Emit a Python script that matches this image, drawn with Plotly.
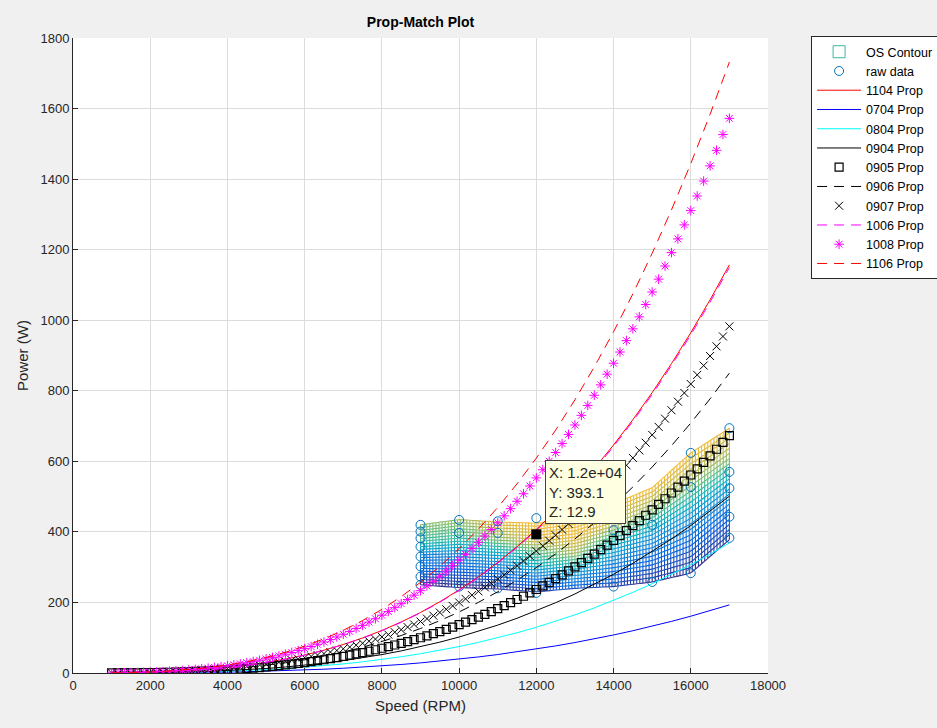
import numpy as np
import plotly.graph_objects as go

# ---------------- data ----------------
rpm_line = [1000, 1500, 2000, 2500, 3000, 3500, 4000, 4500, 5000, 5500, 6000, 6500,
            7000, 7500, 8000, 8500, 9000, 9500, 10000, 10500, 11000, 11500, 12000,
            12500, 13000, 13500, 14000, 14500, 15000, 15500, 16000, 16500, 17000]

p1104 = [0.24, 0.79, 1.88, 3.68, 6.36, 10.1, 15.07, 21.46, 29.44, 39.18, 50.87, 64.67,
         80.78, 99.35, 120.58, 144.63, 171.68, 201.91, 235.5, 272.62, 313.45, 358.17,
         406.94, 459.96, 517.39, 579.42, 646.21, 717.95, 794.81, 876.97, 964.61, 1057.9, 1157.0]
p0704 = [0.04, 0.13, 0.31, 0.61, 1.06, 1.69, 2.52, 3.58, 4.91, 6.54, 8.49, 10.79,
         13.48, 16.58, 20.12, 24.14, 28.65, 33.69, 39.3, 45.49, 52.31, 59.77,
         67.91, 76.76, 86.34, 96.69, 107.84, 119.81, 132.64, 146.35, 160.97, 176.54, 193.08]
p0804 = [0.08, 0.25, 0.6, 1.17, 2.03, 3.22, 4.8, 6.83, 9.38, 12.48, 16.2, 20.6,
         25.73, 31.64, 38.4, 46.06, 54.68, 64.3, 75.0, 86.82, 99.83, 114.07,
         129.6, 146.48, 164.78, 184.53, 205.8, 228.65, 253.13, 279.29, 307.2, 336.91, 368.48]
p0904 = [0.1, 0.34, 0.82, 1.59, 2.75, 4.37, 6.53, 9.29, 12.75, 16.97, 22.03, 28.01,
         34.99, 43.03, 52.22, 62.64, 74.36, 87.45, 102.0, 118.08, 135.76, 155.13,
         176.26, 199.22, 224.09, 250.96, 279.89, 310.96, 344.25, 379.84, 417.79, 458.2, 501.13]
p0906 = [0.17, 0.58, 1.38, 2.7, 4.67, 7.42, 11.07, 15.76, 21.63, 28.78, 37.37, 47.51,
         59.34, 72.98, 88.58, 106.24, 126.12, 148.33, 173.0, 200.27, 230.26, 263.11,
         298.94, 337.89, 380.08, 425.64, 474.71, 527.41, 583.88, 644.23, 708.61, 777.14, 849.95]
p1006 = [0.23, 0.79, 1.87, 3.66, 6.32, 10.03, 14.98, 21.32, 29.25, 38.93, 50.54, 64.26,
         80.26, 98.72, 119.81, 143.71, 170.59, 200.63, 234.0, 270.88, 311.45, 355.88,
         404.35, 457.03, 514.1, 575.73, 642.1, 713.38, 789.75, 871.39, 958.46, 1051.16, 1149.64]
p1106 = [0.35, 1.19, 2.82, 5.51, 9.52, 15.11, 22.56, 32.12, 44.06, 58.65, 76.14, 96.81,
         120.91, 148.71, 180.48, 216.48, 256.97, 302.22, 352.5, 408.06, 469.18, 536.11,
         609.12, 688.48, 774.44, 867.28, 967.26, 1074.64, 1189.69, 1312.67, 1443.84, 1583.47, 1731.83]

rpm_mark = [1000, 1167, 1333, 1500, 1667, 1833, 2000, 2167, 2333, 2500,
            2667, 2833, 3000, 3167, 3333, 3500, 3667, 3833, 4000, 4167,
            4333, 4500, 4667, 4833, 5000, 5167, 5333, 5500, 5667, 5833,
            6000, 6167, 6333, 6500, 6667, 6833, 7000, 7167, 7333, 7500,
            7667, 7833, 8000, 8167, 8333, 8500, 8667, 8833, 9000, 9167,
            9333, 9500, 9667, 9833, 10000, 10167, 10333, 10500, 10667, 10833,
            11000, 11167, 11333, 11500, 11667, 11833, 12000, 12167, 12333, 12500,
            12667, 12833, 13000, 13167, 13333, 13500, 13667, 13833, 14000, 14167,
            14333, 14500, 14667, 14833, 15000, 15167, 15333, 15500, 15667, 15833,
            16000, 16167, 16333, 16500, 16667, 16833, 17000]

p0905 = [0.1, 0.2, 0.3, 0.5, 0.6, 0.8, 1.1, 1.4, 1.7, 2.1,
         2.6, 3.1, 3.7, 4.4, 5.1, 5.9, 6.8, 7.7, 8.8, 9.9,
         11.1, 12.5, 13.9, 15.5, 17.1, 18.9, 20.8, 22.8, 24.9, 27.2,
         29.6, 32.1, 34.8, 37.6, 40.6, 43.7, 47.0, 50.4, 54.0, 57.8,
         61.7, 65.9, 70.1, 74.6, 79.3, 84.1, 89.2, 94.4, 99.9, 105.5,
         111.4, 117.5, 123.8, 130.3, 137.0, 144.0, 151.2, 158.6, 166.3, 174.2,
         182.3, 190.8, 199.4, 208.4, 217.6, 227.0, 236.7, 246.7, 257.0, 267.6,
         278.4, 289.6, 301.0, 312.7, 324.7, 337.1, 349.7, 362.7, 375.9, 389.5,
         403.4, 417.7, 432.2, 447.1, 462.4, 478.0, 493.9, 510.2, 526.8, 543.8,
         561.2, 578.9, 597.0, 615.4, 634.3, 653.5, 673.1]
p0907 = [0.2, 0.3, 0.5, 0.7, 0.9, 1.2, 1.6, 2.0, 2.5, 3.1,
         3.8, 4.5, 5.4, 6.4, 7.4, 8.6, 9.9, 11.3, 12.8, 14.5,
         16.3, 18.2, 20.3, 22.6, 25.0, 27.6, 30.3, 33.3, 36.4, 39.7,
         43.2, 46.9, 50.8, 54.9, 59.3, 63.8, 68.6, 73.6, 78.9, 84.4,
         90.1, 96.1, 102.4, 108.9, 115.7, 122.8, 130.2, 137.8, 145.8, 154.1,
         162.6, 171.5, 180.7, 190.2, 200.0, 210.2, 220.7, 231.5, 242.7, 254.3,
         266.2, 278.5, 291.1, 304.2, 317.6, 331.4, 345.6, 360.2, 375.2, 390.6,
         406.5, 422.7, 439.4, 456.5, 474.1, 492.1, 510.5, 529.4, 548.8, 568.6,
         588.9, 609.7, 631.0, 652.7, 675.0, 697.8, 721.0, 744.8, 769.1, 793.9,
         819.2, 845.1, 871.5, 898.4, 925.9, 954.0, 982.6]
p1008 = [0.3, 0.5, 0.8, 1.1, 1.5, 2.0, 2.6, 3.3, 4.1, 5.0,
         6.1, 7.3, 8.6, 10.2, 11.9, 13.7, 15.8, 18.0, 20.5, 23.1,
         26.0, 29.2, 32.5, 36.1, 40.0, 44.1, 48.5, 53.2, 58.2, 63.5,
         69.1, 75.0, 81.3, 87.9, 94.8, 102.1, 109.8, 117.8, 126.2, 135.0,
         144.2, 153.8, 163.8, 174.3, 185.2, 196.5, 208.3, 220.6, 233.3, 246.5,
         260.2, 274.4, 289.1, 304.3, 320.0, 336.3, 353.1, 370.4, 388.4, 406.9,
         425.9, 445.6, 465.8, 486.7, 508.1, 530.2, 553.0, 576.3, 600.3, 625.0,
         650.3, 676.3, 703.0, 730.4, 758.5, 787.3, 816.8, 847.1, 878.1, 909.8,
         942.3, 975.6, 1009.6, 1044.4, 1080.0, 1116.4, 1153.6, 1191.6, 1230.5, 1270.2,
         1310.7, 1352.1, 1394.4, 1437.5, 1481.5, 1526.4, 1572.2]

raw_rpm = [9000, 9000, 9000, 9000, 9000, 9000, 9000, 9000,
           10000, 10000, 10000, 11000, 11000, 11000, 12000, 12000,
           14000, 14000, 15000, 15000, 16000, 16000, 16000,
           17000, 17000, 17000, 17000, 17000]
raw_power = [420, 401, 382, 358, 330, 302, 273, 250,
             434, 397, 245, 430, 397, 240, 439, 227,
             405, 245, 420, 258, 624, 527, 283,
             694, 570, 524, 443, 383]

# OS contour surface (coarse nodes): power band and efficiency-like Z
contour_rpm = [9000, 10000, 11000, 12000, 13000, 14000, 15000, 16000, 17000]
contour_low = [250, 242, 238, 230, 240, 245, 258, 283, 378]
contour_high = [420, 435, 428, 425, 440, 480, 525, 624, 694]
contour_levels = [0.0, 0.25, 0.5, 0.75, 1.0]
contour_z = [
    [6.0, 6.0, 6.1, 6.3, 6.6, 6.3, 6.1, 6.1, 6.2],
    [6.8, 6.8, 7.0, 7.6, 8.6, 7.3, 6.9, 6.8, 6.9],
    [7.5, 7.7, 8.4, 10.0, 11.8, 9.0, 8.0, 8.2, 8.5],
    [10.4, 10.3, 11.4, 12.4, 12.8, 12.1, 11.2, 11.6, 11.6],
    [11.3, 11.5, 12.6, 12.9, 13.0, 12.9, 12.8, 12.8, 12.6],
]

tip_x, tip_y, tip_z = 12000, 393.1, 12.9

x_ticks = [0, 2000, 4000, 6000, 8000, 10000, 12000, 14000, 16000, 18000]
x_ticktext = ["0", "2000", "4000", "6000", "8000", "10000", "12000", "14000", "16000", "18000"]
y_ticks = [0, 200, 400, 600, 800, 1000, 1200, 1400, 1600, 1800]
y_ticktext = ["0", "200", "400", "600", "800", "1000", "1200", "1400", "1600", "1800"]

# ---------------- helpers ----------------
PARULA = [
    (0.00, (0.208, 0.166, 0.529)),
    (0.10, (0.012, 0.388, 0.882)),
    (0.20, (0.078, 0.520, 0.831)),
    (0.30, (0.024, 0.627, 0.800)),
    (0.40, (0.087, 0.692, 0.720)),
    (0.50, (0.216, 0.725, 0.604)),
    (0.60, (0.459, 0.745, 0.462)),
    (0.70, (0.725, 0.729, 0.334)),
    (0.80, (0.945, 0.729, 0.212)),
    (0.90, (0.973, 0.847, 0.153)),
    (1.00, (0.976, 0.983, 0.081)),
]


def parula(v):
    v = min(max(v, 0.0), 1.0)
    for (a, ca), (b, cb) in zip(PARULA[:-1], PARULA[1:]):
        if v <= b:
            t = (v - a) / (b - a)
            c = [ca[k] + t * (cb[k] - ca[k]) for k in range(3)]
            return "rgb(%d,%d,%d)" % tuple(int(round(255 * q)) for q in c)
    c = PARULA[-1][1]
    return "rgb(%d,%d,%d)" % tuple(int(round(255 * q)) for q in c)


FONT = "Liberation Sans, Arial, sans-serif"
fig = go.Figure()

# ---------------- mesh of OS contour ----------------
cmin, cmax = 6.0, 14.5
cols = np.arange(contour_rpm[0], contour_rpm[-1] + 1, 80)
fr = np.linspace(0, 1, 23)
lo = np.interp(cols, contour_rpm, contour_low)
hi = np.interp(cols, contour_rpm, contour_high)
zl = np.array([np.interp(cols, contour_rpm, row) for row in contour_z])
Z = np.array([[np.interp(f, contour_levels, zl[:, i]) for i in range(len(cols))] for f in fr])
Y = lo[None, :] + fr[:, None] * (hi - lo)[None, :]

nb = 40
bins_x = [[] for _ in range(nb)]
bins_y = [[] for _ in range(nb)]


def add_seg(x0, y0, x1, y1, z):
    b = int((z - cmin) / (cmax - cmin) * nb)
    b = min(max(b, 0), nb - 1)
    bins_x[b].extend([x0, x1, None])
    bins_y[b].extend([y0, y1, None])


nr, nc = Y.shape
for j in range(nr):
    for i in range(nc - 1):
        add_seg(cols[i], Y[j, i], cols[i + 1], Y[j, i + 1], 0.5 * (Z[j, i] + Z[j, i + 1]))
for i in range(nc):
    for j in range(nr - 1):
        add_seg(cols[i], Y[j, i], cols[i], Y[j + 1, i], 0.5 * (Z[j, i] + Z[j + 1, i]))

for b in range(nb):
    if not bins_x[b]:
        continue
    fig.add_trace(go.Scatter(
        x=bins_x[b], y=bins_y[b], mode="lines",
        line=dict(color=parula((b + 0.5) / nb), width=1.1),
        showlegend=False, hoverinfo="skip"))

# legend entry for the contour
fig.add_trace(go.Bar(x=[None], y=[None], name="OS Contour",
                     marker=dict(color="white", line=dict(color="#3cb8a0", width=1))))

fig.add_trace(go.Scatter(x=raw_rpm, y=raw_power, mode="markers", name="raw data",
                         marker=dict(symbol="circle-open", size=9, color="#0072bd",
                                     line=dict(width=1, color="#0072bd"))))

fig.add_trace(go.Scatter(x=rpm_line, y=p1104, mode="lines", name="1104 Prop",
                         line=dict(color="#ff0000", width=1)))
fig.add_trace(go.Scatter(x=rpm_line, y=p0704, mode="lines", name="0704 Prop",
                         line=dict(color="#0000ff", width=1)))
fig.add_trace(go.Scatter(x=rpm_line, y=p0804, mode="lines", name="0804 Prop",
                         line=dict(color="#00ffff", width=1)))
fig.add_trace(go.Scatter(x=rpm_line, y=p0904, mode="lines", name="0904 Prop",
                         line=dict(color="#000000", width=1)))
fig.add_trace(go.Scatter(x=rpm_mark, y=p0905, mode="markers", name="0905 Prop",
                         marker=dict(symbol="square-open", size=8, color="#000000",
                                     line=dict(width=1.2, color="#000000"))))
fig.add_trace(go.Scatter(x=rpm_line, y=p0906, mode="lines", name="0906 Prop",
                         line=dict(color="#000000", width=1, dash="10px,7px")))
fig.add_trace(go.Scatter(x=rpm_mark, y=p0907, mode="markers", name="0907 Prop",
                         marker=dict(symbol="x-thin-open", size=8, color="#000000",
                                     line=dict(width=1, color="#000000"))))
fig.add_trace(go.Scatter(x=rpm_line, y=p1006, mode="lines", name="1006 Prop",
                         line=dict(color="#ff00ff", width=1, dash="10px,7px")))
fig.add_trace(go.Scatter(x=rpm_mark, y=p1008, mode="markers", name="1008 Prop",
                         marker=dict(symbol="asterisk-open", size=8, color="#ff00ff",
                                     line=dict(width=1, color="#ff00ff"))))
fig.add_trace(go.Scatter(x=rpm_line, y=p1106, mode="lines", name="1106 Prop",
                         line=dict(color="#ff0000", width=1, dash="10px,7px")))

# datatip
fig.add_trace(go.Scatter(x=[tip_x], y=[tip_y], mode="markers", showlegend=False,
                         marker=dict(symbol="square", size=10, color="black")))
fig.add_annotation(x=12220, y=604, xref="x", yref="y", xanchor="left", yanchor="top",
                   text="X: 1.2e+04<br>Y: %.1f<br>Z: %.1f" % (tip_y, tip_z),
                   showarrow=False, align="left", bgcolor="#ffffe1",
                   bordercolor="#404040", borderwidth=1, borderpad=3,
                   font=dict(family=FONT, size=15, color="#262626"))

axis_common = dict(showgrid=True, gridcolor="#dcdcdc", gridwidth=1, zeroline=False,
                   showline=True, linecolor="#262626", linewidth=1, ticks="inside",
                   ticklen=5, tickcolor="#262626", mirror=False,
                   tickfont=dict(family=FONT, size=13, color="#262626"))

fig.update_layout(
    width=937, height=728,
    margin=dict(l=73, r=169, t=38, b=55, autoexpand=False),
    paper_bgcolor="#f0f0f0", plot_bgcolor="white",
    title=dict(text="<b>Prop-Match Plot</b>", x=(73 + 768) / 2 / 937, xanchor="center",
               y=1 - 22 / 728, yanchor="middle", yref="container",
               font=dict(family=FONT, size=14, color="black")),
    xaxis=dict(range=[0, 18000], tickvals=x_ticks, ticktext=x_ticktext,
               title=dict(text="Speed (RPM)", font=dict(family=FONT, size=15, color="#262626"),
                          standoff=8),
               **axis_common),
    yaxis=dict(range=[0, 1800], tickvals=y_ticks, ticktext=y_ticktext,
               title=dict(text="Power (W)", font=dict(family=FONT, size=15, color="#262626"),
                          standoff=8),
               **axis_common),
    legend=dict(x=1.062, y=1.003, xanchor="left", yanchor="top", itemwidth=44,
                bgcolor="white", bordercolor="#262626", borderwidth=1,
                font=dict(family=FONT, size=12.5, color="black"), tracegroupgap=0),
    showlegend=True,
)

fig.write_html("out.html")
